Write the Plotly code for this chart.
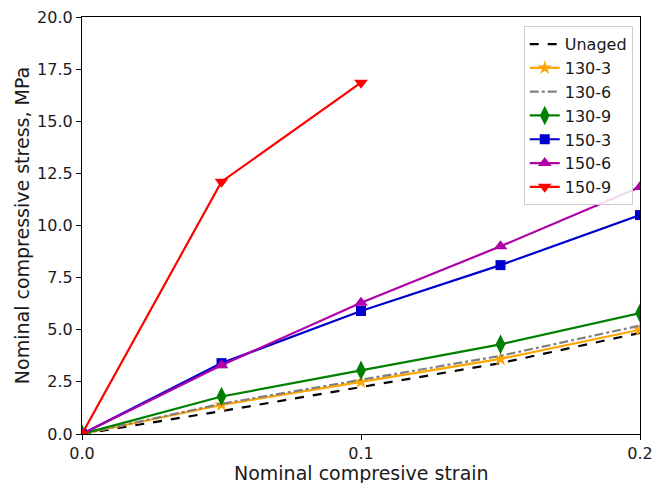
import plotly.graph_objects as go

strain = [0.0, 0.05, 0.1, 0.15, 0.2]
strain_short = [0.0, 0.05, 0.1]

unaged = [0.0, 1.1, 2.25, 3.4, 4.85]
s130_3 = [0.0, 1.4, 2.5, 3.6, 5.0]
s130_6 = [0.0, 1.45, 2.6, 3.75, 5.2]
s130_9 = [0.0, 1.8, 3.05, 4.3, 5.8]
s150_3 = [0.0, 3.4, 5.9, 8.1, 10.5]
s150_6 = [0.0, 3.3, 6.3, 9.0, 11.85]
s150_9 = [0.0, 12.1, 16.85]

x_ticks = [0.0, 0.1, 0.2]
x_ticklabels = ["0.0", "0.1", "0.2"]
y_ticks = [0, 2.5, 5, 7.5, 10, 12.5, 15, 17.5, 20]
y_ticklabels = ["0.0", "2.5", "5.0", "7.5", "10.0", "12.5", "15.0", "17.5", "20.0"]

x_title = "Nominal compresive strain"
y_title = "Nominal compressive stress, MPa"

fig = go.Figure()

series = [
    ("Unaged", strain, unaged, "black", "dash", None, 0),
    ("130-3", strain, s130_3, "#FFA500", "solid", "star", 11),
    ("130-6", strain, s130_6, "#808080", "dashdot", None, 0),
    ("130-9", strain, s130_9, "#008000", "solid", "diamond-tall", 14),
    ("150-3", strain, s150_3, "#0000CD", "solid", "square", 10),
    ("150-6", strain, s150_6, "#B000A8", "solid", "triangle-up", 12),
    ("150-9", strain_short, s150_9, "#FF0000", "solid", "triangle-down", 12),
]

for name, xs, ys, color, dash, sym, size in series:
    if sym is None:
        mode = "lines"
        marker = None
    else:
        mode = "lines+markers"
        marker = dict(symbol=sym, size=size, color=color, line=dict(width=0))
    fig.add_trace(go.Scatter(
        x=xs, y=ys, name=name, mode=mode,
        line=dict(color=color, width=2.2, dash=dash),
        marker=marker,
    ))

fig.update_layout(
    width=654, height=483,
    margin=dict(l=82, r=14, t=17, b=49),
    plot_bgcolor="white", paper_bgcolor="white",
    font=dict(family="DejaVu Sans", size=16, color="#1a1a1a"),
    showlegend=True,
    legend=dict(
        x=0.987, y=0.978, xanchor="right", yanchor="top",
        bgcolor="rgba(255,255,255,0.85)", bordercolor="#CCCCCC", borderwidth=1,
        font=dict(size=16, color="#1a1a1a"),
        tracegroupgap=0, itemwidth=30,
    ),
    annotations=[dict(
        text=x_title, xref="paper", yref="paper", x=0.5, y=0,
        xanchor="center", yanchor="middle", yshift=-39, showarrow=False,
        font=dict(size=19, color="#1a1a1a"),
    )],
)

fig.update_xaxes(
    range=[0, 0.2], tickvals=x_ticks, ticktext=x_ticklabels,
    showgrid=False, zeroline=False, automargin=False,
    showline=True, linecolor="black", linewidth=1.2, mirror=True,
    ticks="outside", ticklen=5, tickcolor="black",
)
fig.update_yaxes(
    range=[0, 20], tickvals=y_ticks, ticktext=y_ticklabels,
    showgrid=False, zeroline=False, automargin=False,
    showline=True, linecolor="black", linewidth=1.2, mirror=True,
    ticks="outside", ticklen=5, tickcolor="black",
    title=dict(text=y_title, font=dict(size=19, color="#1a1a1a"), standoff=2),
)

fig.write_html("out.html")
